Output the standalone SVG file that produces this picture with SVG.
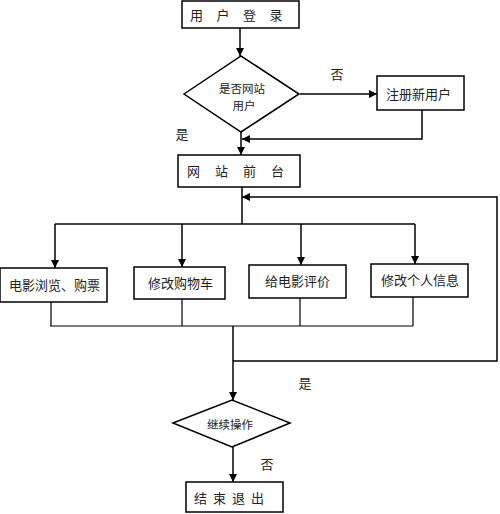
<svg xmlns="http://www.w3.org/2000/svg" width="500" height="514" viewBox="0 0 500 514">
<style>
.box{fill:#fff;stroke:#000;stroke-width:1.5}
.ln{fill:none;stroke:#000;stroke-width:1.5}
.ln2{fill:none;stroke:#000;stroke-width:1.2}
text{font-family:"Noto Sans CJK SC","Liberation Serif",serif;fill:#222;dominant-baseline:central}
.t{font-size:13px}
.td{font-size:11.5px;text-anchor:middle}
.tl{font-size:13px;text-anchor:middle}
</style>
<defs>
<marker id="arr" viewBox="0 0 10 10" refX="10" refY="5" markerWidth="8" markerHeight="8" markerUnits="userSpaceOnUse" orient="auto">
<path d="M0,0 L10,5 L0,10 Z" fill="#000"/>
</marker>
</defs>
<rect width="500" height="514" fill="#fff"/>
<g id="connectors">
<path class="ln" d="M240,28 V56" marker-end="url(#arr)"/>
<path class="ln" d="M300,94 H377" marker-end="url(#arr)"/>
<path class="ln" d="M422,110 V139 H242" marker-end="url(#arr)"/>
<path class="ln" d="M241,132 V155" marker-end="url(#arr)"/>
<path class="ln" d="M242,187 V224"/>
<path class="ln" d="M55,224 H415"/>
<path class="ln" d="M55,224 V268" marker-end="url(#arr)"/>
<path class="ln" d="M182,224 V267" marker-end="url(#arr)"/>
<path class="ln" d="M301,224 V265" marker-end="url(#arr)"/>
<path class="ln" d="M415,224 V264" marker-end="url(#arr)"/>
<path class="ln2" d="M51,302 V326 M182,299 V326 M300,298 V326 M413,297 V326 M50,326 H413"/>
<path class="ln" d="M233,326 V400" marker-end="url(#arr)"/>
<path class="ln" d="M233,361 H497 V197 H242" marker-end="url(#arr)"/>
<path class="ln" d="M233,447 V482" marker-end="url(#arr)"/>
</g>
<g id="login">
<rect class="box" x="182" y="1" width="117" height="27"/>
<text class="t" x="190" y="14.5" letter-spacing="13.5">用户登录</text>
</g>
<g id="check-user">
<polygon class="box" points="184,94 241,56 299,94 241,132"/>
<text class="td" x="242" y="88">是否网站</text>
<text class="td" x="244" y="105">用户</text>
</g>
<g id="register">
<rect class="box" x="377" y="76" width="87" height="34"/>
<text class="t" x="386" y="93">注册新用户</text>
</g>
<g id="front">
<rect class="box" x="178" y="155" width="122" height="32"/>
<text class="t" x="187" y="170" letter-spacing="15">网站前台</text>
</g>
<g id="browse">
<rect class="box" x="0" y="268" width="107" height="34"/>
<text class="t" x="9" y="284">电影浏览、购票</text>
</g>
<g id="cart">
<rect class="box" x="134" y="267" width="91" height="32"/>
<text class="t" x="148" y="282">修改购物车</text>
</g>
<g id="review">
<rect class="box" x="249" y="265" width="97" height="33"/>
<text class="t" x="265" y="280">给电影评价</text>
</g>
<g id="profile">
<rect class="box" x="371" y="264" width="97" height="33"/>
<text class="t" x="381" y="279">修改个人信息</text>
</g>
<g id="continue">
<polygon class="box" points="173,423 232,400 290,423 232,447"/>
<text class="td" x="230" y="424">继续操作</text>
</g>
<g id="exit">
<rect class="box" x="186" y="482" width="97" height="30"/>
<text class="t" x="194" y="497" letter-spacing="6">结束退出</text>
</g>
<g id="labels">
<text class="tl" x="337" y="73">否</text>
<text class="tl" x="182" y="133">是</text>
<text class="tl" x="305" y="382">是</text>
<text class="tl" x="267" y="463">否</text>
</g>
</svg>
